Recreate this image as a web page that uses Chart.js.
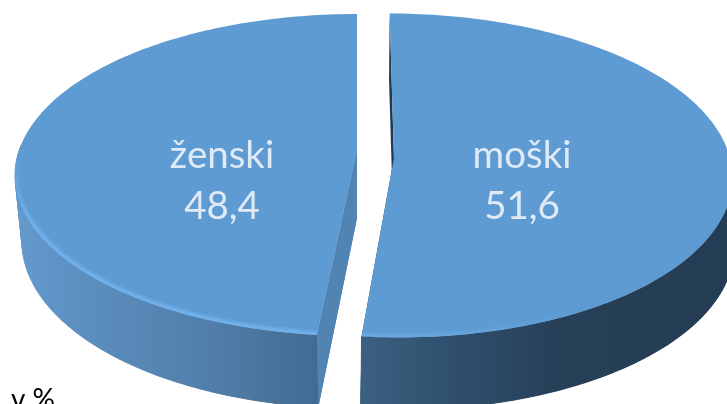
<!DOCTYPE html>
<html lang="sl">
<head>
<meta charset="utf-8">
<style>
html,body{margin:0;padding:0;background:#fff;overflow:hidden}
#wrap{position:relative;width:727px;height:404px;overflow:hidden}
canvas{display:block}
</style>
<script src="https://cdn.jsdelivr.net/npm/chart.js@4"></script>
</head>
<body>
<div id="wrap"><canvas id="c" width="727" height="404"></canvas></div>
<script>
const categories = ["moški", "ženski"];
const shares = [51.6, 48.4];
const unitLabel = "v %";

const topColor = "#5e9bd2";
const labelColor = "#dfeaf6";
const fontFamily = "Lato, Carlito, 'Open Sans', sans-serif";

// Perspective ellipses of each exploded slice (top face and bottom face)
const sliceGeometry = [
  { top: {ex:394.5, ey:175.5, rx:338, ry:162, p:-0.108, k:0.03},
    bot: {ex:394, ey:245, rx:340, ry:165, p:-0.12, k:0.03},
    stops: [[362,"#3c6080"],[450,"#2f506e"],[560,"#273f57"],[727,"#243c54"]],
    cut: "#1f3a52", label:[522],
    rim: t => t > 2.6 ? Math.max(0, (t-2.6)/0.6)*0.45 : 0 },
  { top: {ex:357, ey:175, rx:342, ry:161, p:-0.155, k:0},
    bot: {ex:357, ey:241.5, rx:335, ry:167, p:-0.14, k:0},
    stops: [[20,"#6499cd"],[100,"#5a8cbc"],[200,"#5280ac"],[318,"#426b91"]],
    cut: "#5183b3", label:[222],
    rim: t => { const d = t - Math.PI; // radians past 6 o'clock
      return d < 1.1 ? 0.75 : Math.max(0, (1.55-d)/0.45)*0.75; } }
];

function project(g, t){
  const u = Math.sin(t), v = -Math.cos(t), d = 1 + g.p*v;
  const X = u*Math.sqrt(1-g.p*g.p)/d, Y = (v+g.p)/d;
  return [g.ex + g.rx*X + g.k*g.ry*Y, g.ey + g.ry*Y];
}
function apex(g){ return [g.ex + g.k*g.ry*g.p, g.ey + g.ry*g.p]; }

function poly(ctx, pts){
  ctx.beginPath();
  pts.forEach((q,i)=> i ? ctx.lineTo(q[0],q[1]) : ctx.moveTo(q[0],q[1]));
  ctx.closePath();
}

const pie3d = {
  id:"pie3d",
  beforeDatasetsDraw(chart){
    const ctx = chart.ctx, arcs = chart.getDatasetMeta(0).data;
    arcs.forEach((arc,i)=>{
      const geo = sliceGeometry[i];
      const a0 = arc.startAngle + Math.PI/2, a1 = arc.endAngle + Math.PI/2;
      const N = 160, ts = [];
      for(let j=0;j<=N;j++) ts.push(a0 + (a1-a0)*j/N);
      const topPts = ts.map(t=>project(geo.top,t));
      const botPts = ts.map(t=>project(geo.bot,t));

      ctx.save();
      // cut faces
      ctx.fillStyle = geo.cut;
      poly(ctx,[topPts[0],apex(geo.top),apex(geo.bot),botPts[0]]); ctx.fill();
      poly(ctx,[topPts[N],apex(geo.top),apex(geo.bot),botPts[N]]); ctx.fill();

      // outer wall: strips fill the tangent silhouette, one polygon hides their seams
      const s0 = geo.stops[0][0], s1 = geo.stops[geo.stops.length-1][0];
      const grad = ctx.createLinearGradient(s0,0,s1,0);
      geo.stops.forEach(s=>grad.addColorStop((s[0]-s0)/(s1-s0),s[1]));
      ctx.fillStyle = grad; ctx.strokeStyle = grad; ctx.lineWidth = 0.5;
      const keep = ts.map(t=>Math.cos(t) <= 0.05);
      for(let j=0;j<N;j++){
        if(!keep[j] || !keep[j+1]) continue;
        poly(ctx,[topPts[j],topPts[j+1],botPts[j+1],botPts[j]]);
        ctx.fill(); ctx.stroke();
      }
      const upper = topPts.filter((q,j)=>keep[j]);
      const lower = botPts.filter((q,j)=>keep[j]).reverse();
      poly(ctx,upper.concat(lower));
      ctx.fill();

      // cut face of the left slice lies over the wall
      if(i===1){
        ctx.fillStyle = geo.cut;
        poly(ctx,[topPts[0],apex(geo.top),apex(geo.bot),botPts[0]]); ctx.fill();
      }

      // top face
      poly(ctx,[apex(geo.top)].concat(topPts));
      ctx.fillStyle = arc.options.backgroundColor; ctx.fill();

      // bevel rim
      ctx.save();
      poly(ctx,[apex(geo.top)].concat(topPts)); ctx.clip();
      ctx.lineCap = "butt";
      for(const [w,mult] of [[10,0.35],[6,0.6]]){
        ctx.lineWidth = w;
        for(let j=0;j<N;j++){
          const al = geo.rim(ts[j]);
          if(al<=0) continue;
          ctx.strokeStyle = "rgba(125,190,250,"+(al*mult).toFixed(3)+")";
          ctx.beginPath();
          ctx.moveTo(topPts[j][0],topPts[j][1]);
          ctx.lineTo(topPts[j+1][0],topPts[j+1][1]);
          ctx.stroke();
        }
      }
      ctx.restore();

      ctx.restore();
    });
    return false;
  },
  afterDraw(chart){
    const ctx = chart.ctx;
    ctx.save();
    ctx.fillStyle = labelColor;
    ctx.textAlign = "center"; ctx.textBaseline = "alphabetic";
    ctx.font = "38.5px "+fontFamily;
    categories.forEach((name,i)=>{
      const l = sliceGeometry[i].label;
      ctx.fillText(name,l[0],168);
      ctx.fillText(shares[i].toFixed(1).replace(".",","),l[0],219);
    });
    ctx.fillStyle = "#000"; ctx.textAlign = "left";
    ctx.font = "28px "+fontFamily;
    ctx.fillText(unitLabel,11,409);
    ctx.restore();
  }
};

new Chart(document.getElementById("c"),{
  type:"pie",
  data:{labels:categories,datasets:[{data:shares,backgroundColor:[topColor,topColor],borderWidth:0}]},
  options:{
    responsive:false,animation:false,
    layout:{padding:0},
    plugins:{legend:{display:false},tooltip:{enabled:false},title:{display:false}}
  },
  plugins:[pie3d]
});
</script>
</body>
</html>
